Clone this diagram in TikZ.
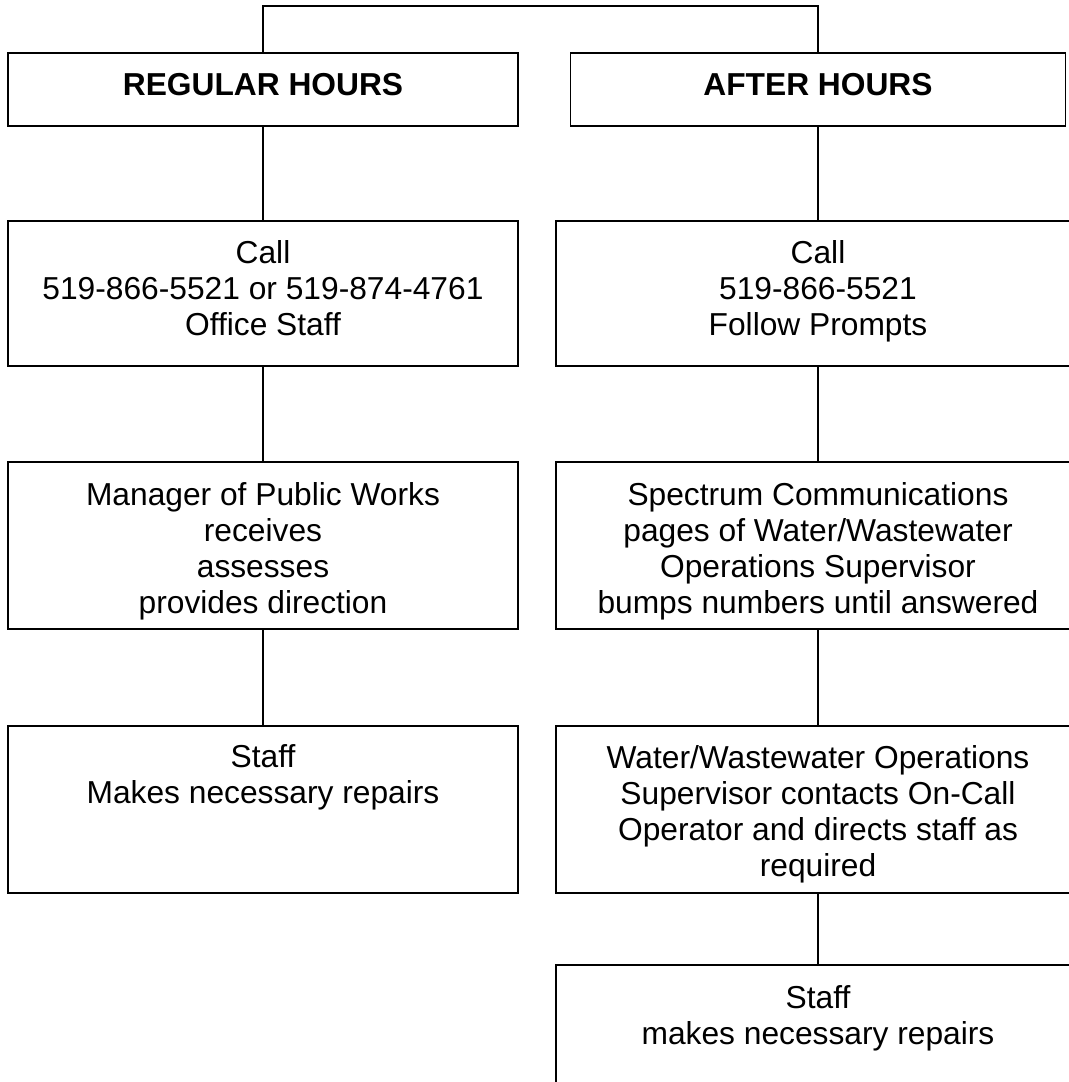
\documentclass[tikz,border=0pt]{standalone}
\usepackage{fontspec}
\setmainfont{Liberation Sans}
\begin{document}
\begin{tikzpicture}[x=0.75pt,y=-0.75pt,
  box/.style={draw=black, line width=1.1pt, rectangle, inner sep=0pt},
  lbox/.style={box, minimum width=382.5pt},
  rbox/.style={box, minimum width=393pt},
  txt/.style={anchor=north, inner sep=0pt, align=center, font=\fontsize{23.8}{27}\selectfont},
  conn/.style={draw=black, line width=1.1pt}]
\useasboundingbox (0,0) rectangle (1068,1082);
% boxes
\node[box, minimum width=382.5pt, minimum height=54.75pt] (L1) at (263,89.5) {};
\node[box, minimum width=371.25pt, minimum height=54.75pt] (R1) at (818,89.5) {};
\node[lbox, minimum height=108.75pt] (L2) at (263,293.5) {};
\node[rbox, minimum height=108.75pt] (R2) at (818,293.5) {};
\node[lbox, minimum height=125.25pt] (L3) at (263,545.5) {};
\node[rbox, minimum height=125.25pt] (R3) at (818,545.5) {};
\node[lbox, minimum height=125.25pt] (L4) at (263,809.5) {};
\node[rbox, minimum height=125.25pt] (R4) at (818,809.5) {};
\node[rbox, minimum height=123.75pt] (R5) at (818,1047.5) {};
% texts
\node[txt, font=\fontsize{23.8}{27}\selectfont\bfseries] (L1t) at (263,73) {REGULAR HOURS};
\node[txt, font=\fontsize{23.8}{27}\selectfont\bfseries] (R1t) at (818,73) {AFTER HOURS};
\node[txt] (L2t) at (263,240) {Call\\519-866-5521 or 519-874-4761\\Office Staff};
\node[txt] (R2t) at (818,240) {Call\\519-866-5521\\Follow Prompts};
\node[txt] (L3t) at (263,482) {Manager of Public Works\\receives\\assesses\\provides direction};
\node[txt] (R3t) at (818,482) {Spectrum Communications\\pages of Water/Wastewater\\Operations Supervisor\\bumps numbers until answered};
\node[txt] (L4t) at (263,744) {Staff\\Makes necessary repairs};
\node[txt] (R4t) at (818,745) {Water/Wastewater Operations\\Supervisor contacts On-Call\\Operator and directs staff as\\required};
\node[txt] (R5t) at (818,985) {Staff\\makes necessary repairs};
% connectors
\coordinate (topbar) at (540,6);
\draw[conn] (L1.north) |- (topbar) -| (R1.north);
\draw[conn] (L1) -- (L2);
\draw[conn] (L2) -- (L3);
\draw[conn] (L3) -- (L4);
\draw[conn] (R1) -- (R2);
\draw[conn] (R2) -- (R3);
\draw[conn] (R3) -- (R4);
\draw[conn] (R4) -- (R5);
\end{tikzpicture}
\end{document}
